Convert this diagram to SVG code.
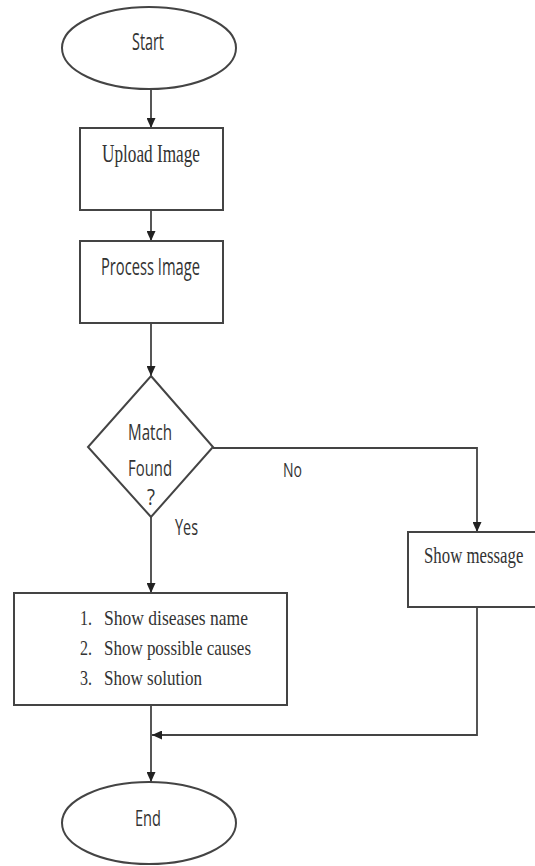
<svg xmlns="http://www.w3.org/2000/svg" width="535" height="866" viewBox="0 0 535 866">
<style>
.shape{fill:#fff;stroke:#444;stroke-width:2}
.conn{fill:none;stroke:#444;stroke-width:1.8}
.sans{font-family:"Open Sans","DejaVu Sans",sans-serif;fill:#333}
.serif{font-family:"Liberation Serif","DejaVu Serif",serif;fill:#333}
</style>
<defs>
<marker id="arr" markerUnits="userSpaceOnUse" markerWidth="10" markerHeight="9" refX="10" refY="4.5" orient="auto">
<path d="M0,0 L10,4.5 L0,9 z" fill="#222"/>
</marker>
</defs>
<rect width="535" height="866" fill="#fff"/>
<g id="connectors">
<line class="conn" x1="151" y1="90" x2="151" y2="128" marker-end="url(#arr)"/>
<line class="conn" x1="151" y1="210" x2="151" y2="241" marker-end="url(#arr)"/>
<line class="conn" x1="151" y1="323" x2="151" y2="376" marker-end="url(#arr)"/>
<path class="conn" d="M213,448 H477 V532" marker-end="url(#arr)"/>
<line class="conn" x1="151" y1="517" x2="151" y2="593" marker-end="url(#arr)"/>
<line class="conn" x1="151" y1="705" x2="151" y2="782" marker-end="url(#arr)"/>
<path class="conn" d="M477,607 V735 H152" marker-end="url(#arr)"/>
<text class="sans" x="283" y="477" font-size="20" textLength="19" lengthAdjust="spacingAndGlyphs">No</text>
<text class="sans" x="175" y="535" font-size="21" textLength="23" lengthAdjust="spacingAndGlyphs">Yes</text>
</g>
<g id="start">
<ellipse class="shape" cx="149" cy="48" rx="87" ry="41"/>
<text class="sans" x="132" y="50" font-size="23" textLength="32" lengthAdjust="spacingAndGlyphs">Start</text>
</g>
<g id="upload">
<rect class="shape" x="80" y="128" width="143" height="82"/>
<text class="serif" x="102" y="162" font-size="26" textLength="98" lengthAdjust="spacingAndGlyphs">Upload Image</text>
</g>
<g id="process">
<rect class="shape" x="80" y="241" width="143" height="82"/>
<text class="sans" x="101" y="275" font-size="23" textLength="99" lengthAdjust="spacingAndGlyphs">Process Image</text>
</g>
<g id="decision">
<polygon class="shape" points="151,376 213,447 151,517 88,447"/>
<text class="sans" x="128" y="440" font-size="21" textLength="44" lengthAdjust="spacingAndGlyphs">Match</text>
<text class="sans" x="128" y="476" font-size="21" textLength="44" lengthAdjust="spacingAndGlyphs">Found</text>
<text class="sans" x="147" y="505" font-size="21" textLength="8" lengthAdjust="spacingAndGlyphs">?</text>
</g>
<g id="message">
<rect class="shape" x="408" y="532" width="135" height="75"/>
<text class="serif" transform="translate(424,563) scale(0.7,1)" x="0" y="0" font-size="24">Show message</text>
</g>
<g id="result">
<rect class="shape" x="14" y="593" width="273" height="112"/>
<text class="serif" x="80" y="625" font-size="22" textLength="12" lengthAdjust="spacingAndGlyphs">1.</text>
<text class="serif" x="104" y="625" font-size="22" textLength="144" lengthAdjust="spacingAndGlyphs">Show diseases name</text>
<text class="serif" x="80" y="655" font-size="22" textLength="12" lengthAdjust="spacingAndGlyphs">2.</text>
<text class="serif" x="104" y="655" font-size="22" textLength="147" lengthAdjust="spacingAndGlyphs">Show possible causes</text>
<text class="serif" x="80" y="685" font-size="22" textLength="12" lengthAdjust="spacingAndGlyphs">3.</text>
<text class="serif" x="104" y="685" font-size="22" textLength="98" lengthAdjust="spacingAndGlyphs">Show solution</text>
</g>
<g id="end">
<ellipse class="shape" cx="149" cy="823" rx="87" ry="41"/>
<text class="sans" x="135" y="826" font-size="22" textLength="26" lengthAdjust="spacingAndGlyphs">End</text>
</g>
</svg>
